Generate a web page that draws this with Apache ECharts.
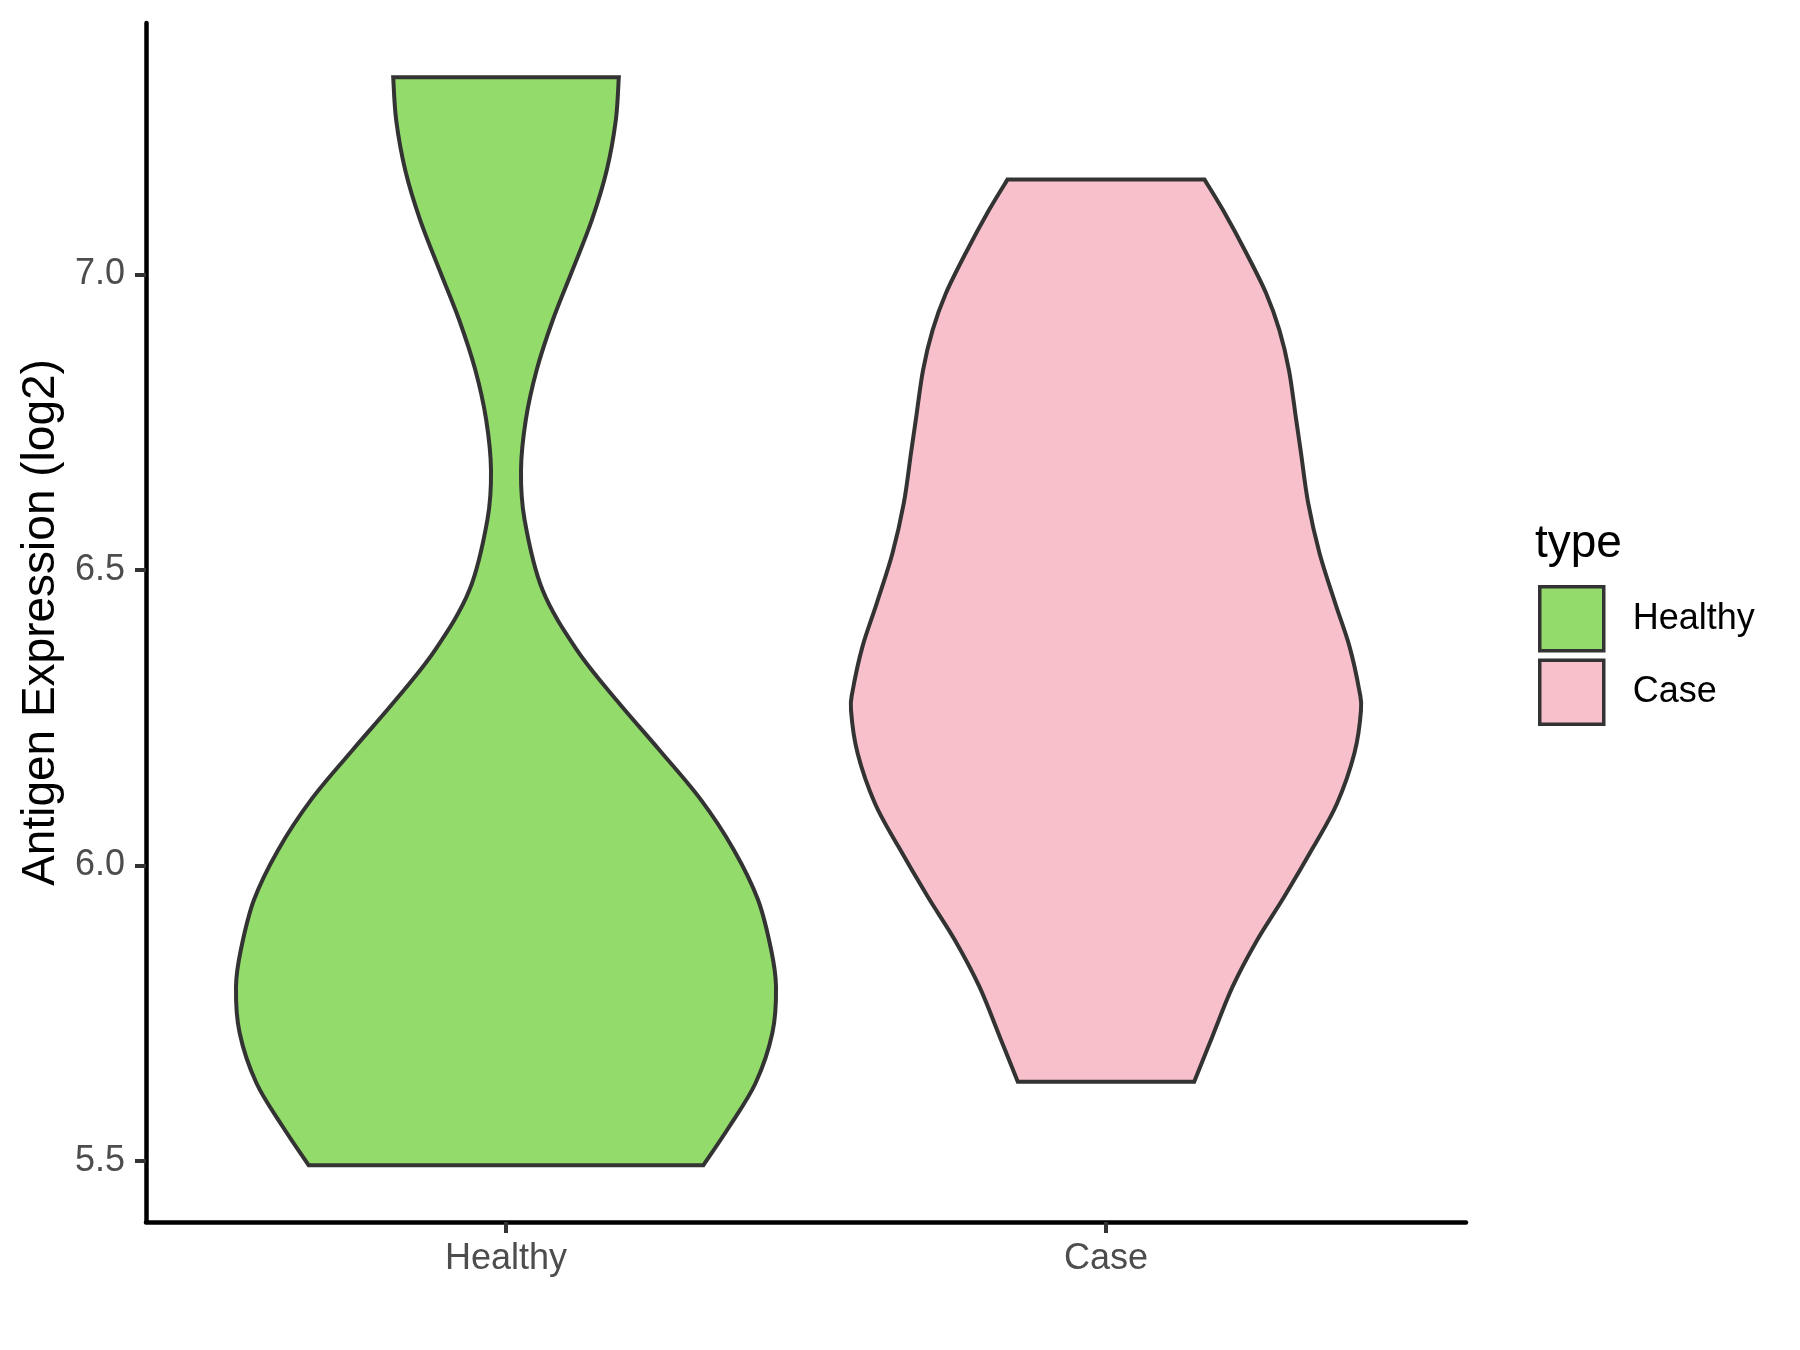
<!DOCTYPE html>
<html>
<head>
<meta charset="utf-8">
<title>Antigen Expression violin</title>
<script src="https://cdn.jsdelivr.net/npm/echarts@6/dist/echarts.min.js"></script>
<style>
  html, body { margin: 0; padding: 0; background: #fff; }
  #chart { width: 1800px; height: 1350px; }
</style>
</head>
<body>
<div id="chart"></div>
<script>
// groups on the x axis (positions 1 and 2)
const groups = ['Healthy', 'Case']
const fills = ['#93DB6B', '#F8C0CB']
const yTicks = [5.5, 6.0, 6.5, 7.0]

// violin outlines: value (log2) and half width in x units
const healthyY = [7.334, 7.261, 7.177, 7.092, 7.008, 6.923, 6.838, 6.754, 6.669, 6.585,
  6.466, 6.365, 6.280, 6.195, 6.111, 6.026, 5.942, 5.857, 5.795, 5.717, 5.632, 5.558, 5.493]
const healthyHalfWidth = [0.188, 0.183, 0.168, 0.143, 0.111, 0.078, 0.051, 0.033, 0.025, 0.031,
  0.061, 0.118, 0.184, 0.256, 0.325, 0.380, 0.420, 0.442, 0.450, 0.444, 0.416, 0.372, 0.329]

const caseY = [7.161, 7.109, 7.036, 6.968, 6.906, 6.838, 6.754, 6.698, 6.613, 6.528, 6.444,
  6.370, 6.297, 6.263, 6.190, 6.105, 6.032, 5.947, 5.874, 5.795, 5.710, 5.634]
const caseHalfWidth = [0.164, 0.195, 0.234, 0.267, 0.289, 0.305, 0.317, 0.325, 0.337, 0.356, 0.382,
  0.406, 0.422, 0.425, 0.414, 0.385, 0.346, 0.297, 0.252, 0.211, 0.177, 0.147]

const violinY = [healthyY, caseY]
const violinHalfWidth = [healthyHalfWidth, caseHalfWidth]

const FONT = '"Liberation Sans", Arial, Helvetica, sans-serif'
const LINE = '#333333'

// smooth side through the points (catmull-rom as cubic beziers)
const sidePath = (pts) => {
  let d = ''
  for (let i = 0; i < pts.length - 1; i++) {
    const p0 = pts[Math.max(i - 1, 0)]
    const p1 = pts[i]
    const p2 = pts[i + 1]
    const p3 = pts[Math.min(i + 2, pts.length - 1)]
    const c1 = [p1[0] + (p2[0] - p0[0]) / 6, p1[1] + (p2[1] - p0[1]) / 6]
    const c2 = [p2[0] - (p3[0] - p1[0]) / 6, p2[1] - (p3[1] - p1[1]) / 6]
    d += ` C${c1[0]},${c1[1]} ${c2[0]},${c2[1]} ${p2[0]},${p2[1]}`
  }
  return d
}

const renderViolin = (params, api) => {
  const idx = params.seriesIndex
  const center = api.value(0)
  const ys = violinY[idx]
  const hw = violinHalfWidth[idx]
  const left = ys.map((y, i) => api.coord([center - hw[i], y]))
  const right = ys.map((y, i) => api.coord([center + hw[i], y])).reverse()
  const d = `M${left[0][0]},${left[0][1]}` + sidePath(left) +
    ` L${right[0][0]},${right[0][1]}` + sidePath(right) + ' Z'
  return {
    type: 'path',
    shape: { pathData: d },
    style: { fill: fills[idx], stroke: LINE, lineWidth: 4, lineJoin: 'miter' }
  }
}

const chart = echarts.init(document.getElementById('chart'))

const option = {
  animation: false,
  backgroundColor: '#ffffff',
  grid: { left: 146, right: 334, top: 23, bottom: 128, containLabel: false },
  xAxis: {
    type: 'value',
    min: 0.4,
    max: 2.6,
    splitLine: { show: false },
    axisLine: { show: true, lineStyle: { color: '#000', width: 4.5 } },
    axisTick: { show: true, customValues: [1, 2], length: 11, lineStyle: { color: LINE, width: 4 } },
    axisLabel: {
      customValues: [1, 2],
      formatter: (v) => groups[Math.round(v) - 1],
      color: '#4D4D4D',
      fontFamily: FONT,
      fontSize: 36,
      margin: 19
    }
  },
  yAxis: {
    type: 'value',
    min: 5.3968,
    max: 7.4256,
    name: 'Antigen Expression (log2)',
    nameLocation: 'middle',
    nameGap: 70,
    nameTextStyle: { color: '#000', fontFamily: FONT, fontSize: 46 },
    splitLine: { show: false },
    axisLine: { show: true, lineStyle: { color: '#000', width: 4.5 } },
    axisTick: { show: true, customValues: yTicks, length: 11, lineStyle: { color: LINE, width: 4 } },
    axisLabel: {
      customValues: yTicks,
      formatter: (v) => v.toFixed(1),
      color: '#4D4D4D',
      fontFamily: FONT,
      fontSize: 36,
      margin: 21
    }
  },
  legend: {
    orient: 'vertical',
    left: 1538,
    top: 585,
    padding: 0,
    itemWidth: 64,
    itemHeight: 64,
    itemGap: 6,
    icon: 'rect',
    textStyle: { color: '#000', fontFamily: FONT, fontSize: 36, padding: [0, 0, 0, 24] },
    data: groups.map((g, i) => ({
      name: g,
      itemStyle: { color: fills[i], borderColor: LINE, borderWidth: 3.5 }
    }))
  },
  graphic: [{
    type: 'text',
    left: 1535,
    top: 521,
    style: { text: 'type', fill: '#000', font: `46px ${FONT}` }
  }],
  series: groups.map((g, i) => ({
    name: g,
    type: 'custom',
    renderItem: renderViolin,
    itemStyle: { color: fills[i], borderColor: LINE, borderWidth: 4 },
    data: [[i + 1]],
    encode: { x: 0 }
  }))
}

chart.setOption(option)
window.addEventListener('resize', () => chart.resize())
</script>
</body>
</html>
